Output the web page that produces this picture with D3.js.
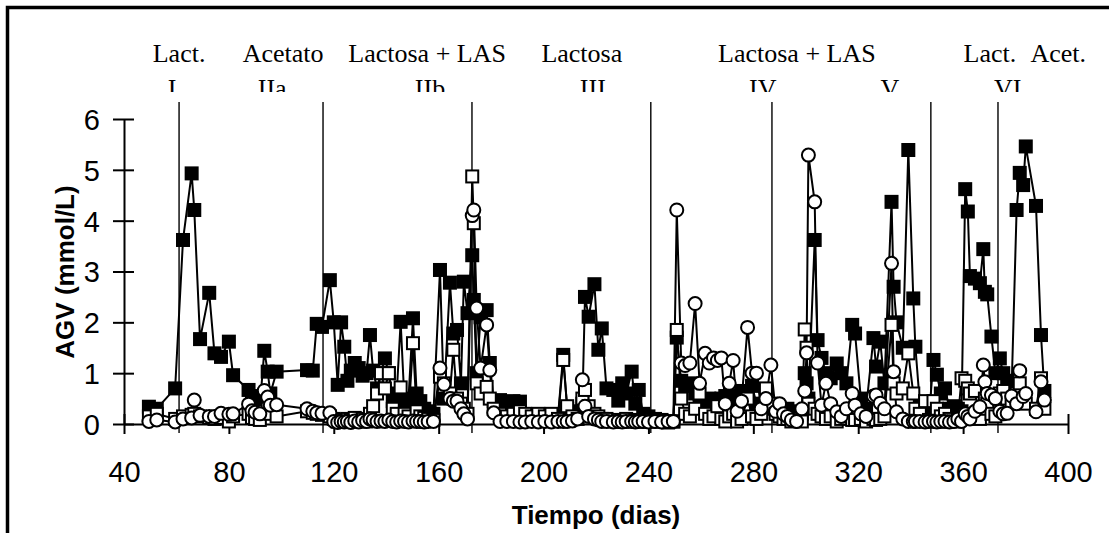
<!DOCTYPE html>
<html>
<head>
<meta charset="utf-8">
<script src="https://cdn.jsdelivr.net/npm/d3@7"></script>
<style>
html,body{margin:0;padding:0;background:#fff;}
svg{display:block;}
</style>
</head>
<body>
<svg id="chart" width="1109" height="533"></svg>
<script>
// ---- DATA ----
const days = [
49.5,52.5,59.5,62.5,65.8,66.8,69.0,72.5,74.5,77.0,80.0,81.6,87.5,88.8,90.0,91.8,93.5,94.8,95.8,98.2,
109.8,112.0,113.5,115.5,
118.5,120.0,121.5,122.8,124.0,125.2,126.5,128.0,129.5,131.0,132.5,133.8,135.0,136.5,138.0,139.5,141.0,142.5,144.0,145.5,
147.0,148.5,150.2,151.6,153.0,154.5,156.0,158.0,160.5,162.0,164.3,165.6,167.0,168.5,169.6,171.0,172.8,173.4,
174.5,176.0,178.3,179.5,181.0,183.4,186.0,188.5,191.0,193.0,195.5,198.0,200.5,203.0,205.5,207.5,209.0,211.0,213.0,
214.8,215.8,217.2,219.4,220.9,222.2,224.0,226.6,228.5,230.0,231.5,233.6,235.0,236.3,238.0,240.0,242.5,245.0,247.5,249.5,
250.8,252.5,254.0,255.8,257.8,259.5,261.6,263.2,264.8,266.3,267.8,269.3,270.8,272.3,273.8,275.5,277.8,279.5,281.2,283.0,284.8,286.7,
288.5,290.0,291.5,293.0,294.5,296.5,298.5,299.6,300.3,301.0,303.4,304.5,306.0,307.7,309.5,311.8,313.5,315.5,317.7,318.8,
321.0,323.0,325.8,326.8,328.4,330.0,332.7,333.5,334.6,337.0,339.1,341.0,341.8,343.5,345.5,347.0,
348.7,350.0,351.5,353.1,354.8,356.5,358.0,359.4,360.8,361.8,362.6,364.5,366.4,367.7,368.3,369.2,370.8,372.3,
374.0,375.3,376.8,378.5,380.4,381.6,382.9,383.9,387.8,389.7,391.0
];
const filledSquares = [
0.34,0.30,0.70,3.62,4.93,4.21,1.67,2.58,1.39,1.32,1.62,0.96,0.67,0.55,0.45,0.35,1.44,1.03,0.60,1.03,
1.06,1.05,1.97,1.91,
2.83,2.00,0.77,2.00,1.52,0.85,1.05,1.20,1.10,0.95,1.00,1.75,1.05,0.70,1.00,1.29,1.00,0.45,0.60,2.01,
0.40,0.50,2.08,0.60,0.45,0.30,0.25,0.20,3.03,0.50,2.78,1.78,1.85,0.80,2.80,2.18,3.32,2.44,
1.00,2.10,2.24,1.20,0.45,0.47,0.40,0.45,0.44,0.15,0.12,0.10,0.15,0.12,0.15,1.36,0.30,0.20,0.25,
0.40,2.50,2.11,2.75,1.46,1.88,0.70,0.67,0.46,0.80,0.60,1.03,0.40,0.67,0.20,0.15,0.10,0.08,0.05,0.05,
1.70,0.85,0.75,0.80,0.60,0.40,0.45,0.50,0.35,0.45,0.50,0.55,0.45,0.55,0.50,0.65,0.55,0.75,0.40,0.30,0.35,0.30,
0.35,0.30,0.25,0.30,0.20,0.25,0.20,1.00,0.80,0.50,3.62,1.65,1.30,1.00,0.90,1.19,1.00,0.80,1.95,1.78,
0.50,0.30,1.69,1.13,1.62,0.80,4.37,2.70,2.00,1.50,5.39,2.47,1.52,0.40,0.20,0.15,
1.26,0.97,0.60,0.70,0.30,0.35,0.30,0.25,4.62,4.18,2.91,2.86,2.77,3.44,2.60,2.55,1.72,1.00,
1.29,1.00,0.85,0.70,4.21,4.94,4.70,5.46,4.29,1.75,0.65
];
const openSquares = [
0.15,0.20,0.10,0.15,0.18,0.20,0.15,0.12,0.10,0.12,0.05,0.15,0.20,0.12,0.10,0.08,0.25,0.30,0.20,0.15,
0.25,0.22,0.20,0.18,
0.15,0.10,0.05,0.08,0.05,0.10,0.08,0.12,0.05,0.10,0.05,0.20,0.35,0.60,1.00,0.70,1.00,0.30,0.20,0.72,
0.20,0.15,1.59,0.25,0.15,0.12,0.10,0.08,0.93,0.80,0.60,1.46,0.50,0.40,0.30,0.20,4.87,3.95,
0.80,0.60,0.73,0.50,0.30,0.20,0.15,0.20,0.25,0.20,0.15,0.20,0.15,0.20,0.10,1.26,0.35,0.15,0.10,
0.50,0.67,0.35,0.20,0.15,0.10,0.10,0.05,0.08,0.05,0.10,0.05,0.08,0.05,0.08,0.05,0.05,0.05,0.03,0.05,
1.85,0.50,0.20,0.15,0.30,0.60,0.20,0.10,0.15,0.35,0.10,0.05,0.15,0.20,0.05,0.10,0.50,0.15,0.10,0.20,0.70,0.40,
0.20,0.15,0.10,0.10,0.05,0.10,0.05,1.86,1.50,0.40,0.30,0.20,0.15,0.10,0.15,0.05,0.10,0.15,0.08,0.08,
0.10,0.05,0.10,0.08,0.10,0.15,1.95,0.80,0.60,0.70,1.39,0.60,0.30,0.20,0.45,0.08,
0.45,0.30,0.15,0.20,0.10,0.05,0.10,0.90,0.85,0.70,0.60,0.65,0.10,0.30,0.50,0.40,0.20,0.15,
0.60,0.65,0.50,0.40,0.60,0.80,0.50,0.40,0.30,0.90,0.30
];
const openCircles = [
0.05,0.08,0.04,0.10,0.12,0.47,0.17,0.15,0.15,0.21,0.19,0.20,0.39,0.26,0.23,0.20,0.66,0.53,0.37,0.38,
0.30,0.25,0.22,0.21,
0.22,0.05,0.03,0.05,0.04,0.05,0.03,0.06,0.04,0.07,0.05,0.10,0.08,0.05,0.06,0.05,0.08,0.05,0.04,0.06,
0.05,0.04,0.06,0.05,0.05,0.04,0.05,0.05,1.10,0.78,0.50,0.45,0.45,0.30,0.20,0.10,4.10,4.21,
2.28,1.10,1.95,1.06,0.22,0.05,0.05,0.05,0.04,0.04,0.05,0.04,0.05,0.04,0.05,0.05,0.05,0.06,0.10,
0.87,0.35,0.15,0.10,0.08,0.05,0.05,0.04,0.05,0.04,0.05,0.05,0.04,0.05,0.05,0.04,0.05,0.04,0.05,0.05,
4.21,1.20,1.15,1.20,2.37,0.80,1.39,1.20,1.30,1.25,1.30,0.40,0.80,1.25,0.25,0.45,1.90,1.00,1.00,0.30,0.50,1.16,
0.25,0.40,0.20,0.15,0.08,0.05,0.30,0.65,1.40,5.29,4.37,1.20,0.37,0.80,0.40,0.24,0.15,0.30,0.60,0.37,
0.20,0.15,0.55,0.57,0.41,0.30,3.16,1.03,0.24,0.10,0.05,0.05,0.05,0.05,0.04,0.05,
0.05,0.04,0.05,0.05,0.04,0.05,0.10,0.05,0.20,0.15,0.10,0.25,0.34,1.16,0.83,0.60,0.57,0.50,
0.25,0.20,0.21,0.55,0.40,1.05,0.54,0.60,0.24,0.83,0.47
];
const xTicks = [40, 80, 120, 160, 200, 240, 280, 320, 360, 400];
const yTicks = [0, 1, 2, 3, 4, 5, 6];
const phaseBoundaries = [61.0, 115.9, 172.7, 240.9, 287.1, 347.7, 373.3];
const feedLabels = ["Lact.", "Acetato", "Lactosa + LAS", "Lactosa", "Lactosa + LAS", "Lact.", "Acet."];
const feedLabelDays = [61.0, 100.7, 155.6, 214.6, 296.6, 370.2, 396.3];
const phaseNames = ["I", "IIa", "IIb", "III", "IV", "V", "VI"];
const phaseNameDays = [58.3, 96.5, 156.7, 218.8, 283.6, 332.1, 377.0];
const xTitle = "Tiempo (dias)";
const yTitle = "AGV (mmol/L)";

// ---- CHART ----
const svg = d3.select("#chart");
const x = d3.scaleLinear().domain([40, 400]).range([124, 1068]);
const y = d3.scaleLinear().domain([0, 6]).range([424, 119]);

// frame (top and left edges of the chart area)
svg.append("path")
  .attr("d", "M7.5,533 V7.5 H1109")
  .attr("fill", "none").attr("stroke", "#000").attr("stroke-width", 3.5);

// clip for the second label row (cut off as in the source)
svg.append("clipPath").attr("id", "labclip")
  .append("rect").attr("x", 0).attr("y", 0).attr("width", 1109).attr("height", 92);

// phase boundary lines
svg.append("g").selectAll("line").data(phaseBoundaries).join("line")
  .attr("x1", d => x(d)).attr("x2", d => x(d))
  .attr("y1", 102).attr("y2", 433)
  .attr("stroke", "#000").attr("stroke-width", 1.4);

// labels
const labG = svg.append("g").attr("font-family", "'Liberation Serif','Times New Roman',serif")
  .attr("font-size", 26).attr("fill", "#000").attr("text-anchor", "middle");
labG.selectAll("text.feed").data(feedLabels).join("text").attr("class", "feed")
  .attr("x", (d, i) => x(feedLabelDays[i])).attr("y", 62).text(d => d);
labG.append("g").attr("clip-path", "url(#labclip)")
  .selectAll("text").data(phaseNames).join("text")
  .attr("x", (d, i) => x(phaseNameDays[i])).attr("y", 97).text(d => d);

// axes
const xAxis = svg.append("g").attr("transform", "translate(0,424)")
  .call(d3.axisBottom(x).tickValues(xTicks).tickFormat(d3.format("d"))
    .tickSizeInner(10).tickSizeOuter(0).tickPadding(0));
xAxis.selectAll(".tick line").attr("y1", -10).attr("y2", 10);
xAxis.selectAll(".tick text").attr("y", 58).attr("dy", 0);
const yAxis = svg.append("g").attr("transform", "translate(124,0)")
  .call(d3.axisLeft(y).tickValues(yTicks).tickFormat(d3.format("d"))
    .tickSizeInner(11).tickSizeOuter(0).tickPadding(0));
yAxis.selectAll(".tick line").attr("x1", -11).attr("x2", 10);
yAxis.selectAll(".tick text").attr("x", -24).attr("dy", "0.36em");
[xAxis, yAxis].forEach(a => {
  a.selectAll("path.domain").attr("stroke", "#000").attr("stroke-width", 2);
  a.selectAll(".tick line").attr("stroke", "#000").attr("stroke-width", 2);
  a.selectAll(".tick text").attr("font-family", "'Liberation Sans',Arial,sans-serif")
    .attr("font-size", 29).attr("fill", "#000");
});

// axis titles
svg.append("text").attr("x", 596).attr("y", 524).attr("text-anchor", "middle")
  .attr("font-family", "'Liberation Sans',Arial,sans-serif").attr("font-weight", "bold")
  .attr("font-size", 26).text(xTitle);
svg.append("text").attr("transform", "translate(74,272) rotate(-90)").attr("text-anchor", "middle")
  .attr("font-family", "'Liberation Sans',Arial,sans-serif").attr("font-weight", "bold")
  .attr("font-size", 26).text(yTitle);

// series
const line = d3.line().x(d => x(d[0])).y(d => y(d[1]));
function series(vals) { return days.map((d, i) => [d, vals[i]]); }

const sF = series(filledSquares), sO = series(openSquares), sC = series(openCircles);
const plot = svg.append("g");
[sF, sO, sC].forEach(s => {
  plot.append("path").datum(s).attr("d", line)
    .attr("fill", "none").attr("stroke", "#000").attr("stroke-width", 2);
});
const S = 12;
plot.append("g").selectAll("rect").data(sF).join("rect")
  .attr("x", d => x(d[0]) - S / 2).attr("y", d => y(d[1]) - S / 2)
  .attr("width", S).attr("height", S)
  .attr("fill", "#000").attr("stroke", "#000").attr("stroke-width", 2);
plot.append("g").selectAll("rect").data(sO).join("rect")
  .attr("x", d => x(d[0]) - S / 2).attr("y", d => y(d[1]) - S / 2)
  .attr("width", S).attr("height", S)
  .attr("fill", "#fff").attr("stroke", "#000").attr("stroke-width", 2);
plot.append("g").selectAll("circle").data(sC).join("circle")
  .attr("cx", d => x(d[0])).attr("cy", d => y(d[1])).attr("r", 6.5)
  .attr("fill", "#fff").attr("stroke", "#000").attr("stroke-width", 2);
</script>
</body>
</html>
